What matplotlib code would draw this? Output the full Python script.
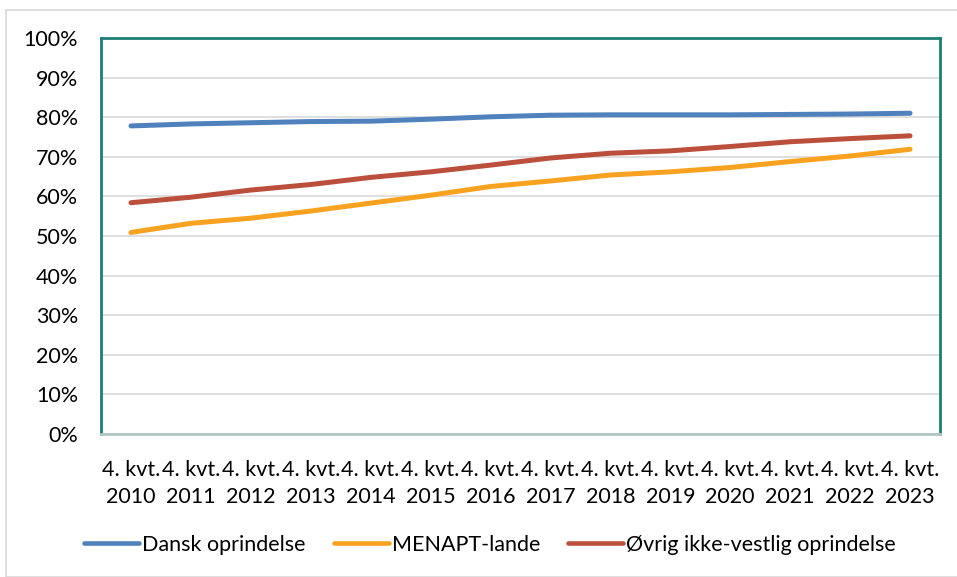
import matplotlib
matplotlib.use("Agg")
import matplotlib.pyplot as plt
from matplotlib.patches import Rectangle
from matplotlib.ticker import PercentFormatter

years = list(range(2010, 2024))
labels = [f"4. kvt.\n{y}" for y in years]
dansk = [77.8, 78.3, 78.6, 78.9, 79.0, 79.5, 80.1, 80.5, 80.6, 80.6, 80.6, 80.7, 80.8, 81.0]
menapt = [50.9, 53.2, 54.5, 56.3, 58.3, 60.3, 62.5, 63.9, 65.4, 66.2, 67.3, 68.8, 70.2, 71.9]
ovrig = [58.4, 59.8, 61.6, 63.0, 64.8, 66.2, 67.9, 69.7, 70.9, 71.5, 72.6, 73.8, 74.6, 75.3]
series_names = ["Dansk oprindelse", "MENAPT-lande", "Øvrig ikke-vestlig oprindelse"]
colors = ["#4F81BD", "#F9A21F", "#BC4F3B"]

plt.rcParams['font.family'] = ['Lato', 'DejaVu Sans']
W, H = 957, 577
fig = plt.figure(figsize=(W/100, H/100), dpi=100)
fig.patches.append(Rectangle((6/W, 0), 1, 1 - 10/H, transform=fig.transFigure,
                             fill=False, edgecolor="#D9D9D9", linewidth=1.2))
ax = fig.add_axes([101/W, (H-434)/H, 839/W, 396/H])

x = list(range(len(years)))
for vals, c, n in zip([dansk, menapt, ovrig], colors, series_names):
    ax.plot(x, [v/100 for v in vals], color=c, lw=3.6, solid_capstyle='round', label=n)

ax.set_xlim(-0.5, len(years) - 0.5)
ax.set_ylim(0, 1)
ax.set_yticks([i/10 for i in range(11)])
ax.yaxis.set_major_formatter(PercentFormatter(1.0, decimals=0))
ax.set_xticks(x)
ax.set_xticklabels(labels, linespacing=1.4)
ax.grid(axis='y', color='#D9D9D9', lw=1.2)
ax.set_axisbelow(True)
ax.tick_params(axis='both', length=0, labelsize=15.5, colors='black')
ax.tick_params(axis='x', pad=19)
ax.tick_params(axis='y', pad=16.5)
for s in ['left', 'top', 'right']:
    ax.spines[s].set_color('#1E7F77')
    ax.spines[s].set_linewidth(2)
ax.spines['bottom'].set_color('#AFC7C3')
ax.spines['bottom'].set_linewidth(2)

leg = fig.legend(loc='center', bbox_to_anchor=(490/W, (H-545)/H), ncol=3, frameon=False,
                 fontsize=15.5, handlelength=2.55, handletextpad=0.15, columnspacing=1.3)
for l in leg.get_lines():
    l.set_linewidth(3.3)

fig.savefig("out.png", dpi=100)
